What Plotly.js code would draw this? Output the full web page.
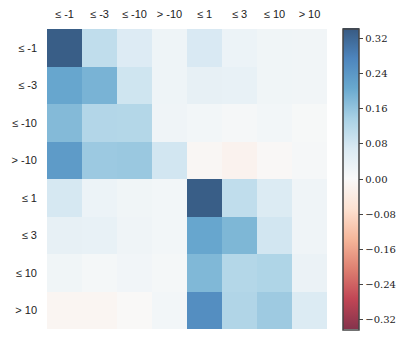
<!DOCTYPE html>
<html>
<head>
<meta charset="utf-8">
<script src="https://cdn.plot.ly/plotly-3.0.1.min.js"></script>
<style>html,body{margin:0;padding:0;background:#fff;}#chart{width:407px;height:337px;}</style>
</head>
<body>
<div id="chart"></div>
<script>
var colLabels = ["≤ -1", "≤ -3", "≤ -10", "> -10", "≤ 1", "≤ 3", "≤ 10", "> 10"];
var rowLabels = ["≤ -1", "≤ -3", "≤ -10", "> -10", "≤ 1", "≤ 3", "≤ 10", "> 10"];

var rowLe1   = [0.335, 0.104, 0.062, 0.024, 0.070, 0.028, 0.020, 0.018];
var rowLe3   = [0.210, 0.188, 0.083, 0.024, 0.040, 0.037, 0.020, 0.018];
var rowLe10  = [0.176, 0.122, 0.120, 0.022, 0.015, 0.008, 0.015, 0.006];
var rowGtM10 = [0.232, 0.150, 0.152, 0.080, -0.008, -0.020, -0.005, 0.008];
var rowLeP1  = [0.074, 0.028, 0.020, 0.015, 0.335, 0.104, 0.064, 0.022];
var rowLeP3  = [0.040, 0.038, 0.022, 0.015, 0.210, 0.182, 0.080, 0.022];
var rowLeP10 = [0.020, 0.010, 0.017, 0.010, 0.180, 0.120, 0.127, 0.030];
var rowGtP10 = [-0.012, -0.012, -0.003, 0.015, 0.257, 0.125, 0.148, 0.065];

var cbTicks = [-0.32, -0.24, -0.16, -0.08, 0.00, 0.08, 0.16, 0.24, 0.32];

var zAll = [rowLe1, rowLe3, rowLe10, rowGtM10, rowLeP1, rowLeP3, rowLeP10, rowGtP10];

// matplotlib RdBu blended with alpha 0.8 on white
var scaleColors = ["rgb(133,51,76)","rgb(193,70,85)","rgb(222,128,113)","rgb(246,183,155)","rgb(253,226,210)",
  "rgb(249,249,249)","rgb(218,234,243)","rgb(168,209,229)","rgb(105,169,207)","rgb(77,133,189)","rgb(55,89,129)"];
var colorscale = scaleColors.map(function(c, i){ return [i/(scaleColors.length-1), c]; });

var trace = {
  type: "heatmap",
  z: zAll,
  x: colLabels,
  y: rowLabels,
  zmin: -0.342,
  zmax: 0.342,
  colorscale: colorscale,
  showscale: true,
  colorbar: {
    x: 1.057, xanchor: "left", xpad: 0,
    y: 0.5, yanchor: "middle", ypad: 0,
    len: 301, lenmode: "pixels",
    thickness: 16, thicknessmode: "pixels",
    outlinecolor: "#444", outlinewidth: 1.5,
    tickmode: "array",
    tickvals: cbTicks,
    ticktext: cbTicks.map(function(v){ return (v < 0 ? "\u2212" : "") + Math.abs(v).toFixed(2); }),
    ticks: "outside", ticklen: 4, tickcolor: "#444", tickwidth: 1,
    tickfont: {family: "DejaVu Serif", size: 10, color: "#222"}
  },
  hoverinfo: "skip"
};

var layout = {
  width: 407, height: 337,
  margin: {l: 47, r: 80, t: 29, b: 8},
  paper_bgcolor: "#fff", plot_bgcolor: "#fff",
  xaxis: {side: "top", showgrid: false, zeroline: false, showline: false, ticks: "", ticklen: 0,
    tickfont: {family: "Liberation Sans", size: 11, color: "#222"}, ticklabelstandoff: 8, fixedrange: true},
  yaxis: {autorange: "reversed", showgrid: false, zeroline: false, showline: false, ticks: "",
    tickfont: {family: "Liberation Sans", size: 11, color: "#222"}, ticklabelstandoff: 9, fixedrange: true},
  font: {family: "Liberation Sans"}
};

Plotly.newPlot("chart", [trace], layout, {displayModeBar: false, staticPlot: true});
</script>
</body>
</html>
